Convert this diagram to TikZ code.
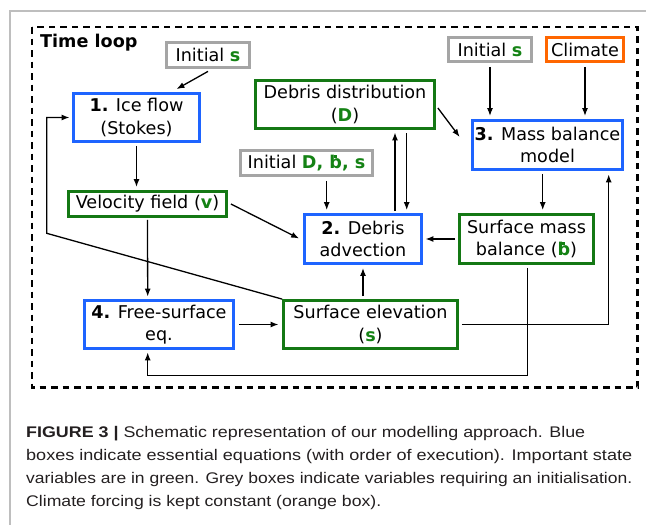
\documentclass[tikz,border=0pt]{standalone}
\usepackage{fontspec}
\setmainfont{DejaVu Sans}
\newfontfamily\capfont{Liberation Sans}
\usetikzlibrary{arrows.meta,calc}
\definecolor{bblue}{RGB}{30,100,255}
\definecolor{bgreen}{RGB}{20,120,20}
\definecolor{vgreen}{RGB}{20,130,20}
\definecolor{bgrey}{RGB}{165,165,165}
\definecolor{borange}{RGB}{255,102,0}
\definecolor{captxt}{RGB}{35,31,32}
\definecolor{framegrey}{RGB}{190,190,190}
\newcommand{\vb}[1]{\textcolor{vgreen}{\textbf{#1}}}
\newcommand{\bdot}{\ooalign{b\cr\hidewidth\raisebox{0.62em}{\rule{0.17em}{0.17em}}\hidewidth\cr}}
\newcommand{\capline}[2]{\resizebox{#1}{\height}{\capfont\fontsize{15.4}{18}\selectfont #2}}
\begin{document}
\begin{tikzpicture}[x=1pt,y=-1pt,
  box/.style={draw, line width=2.8pt, align=center, inner sep=0pt, font=\fontsize{17.6}{22.5}\selectfont, text=black},
  eqbox/.style={box, draw=bblue},
  varbox/.style={box, draw=bgreen},
  initbox/.style={box, draw=bgrey},
  climbox/.style={box, draw=borange},
  arr/.style={line width=1.3pt, -{Latex[length=8pt,width=6pt]}},
  capnode/.style={anchor=base west, inner sep=0pt, text=captxt},
]
\useasboundingbox (0,0) rectangle (646,525);
\draw[framegrey, line width=1.5pt] (10,525) -- (10,11) -- (646,11);
\draw[line width=2.2pt, dash pattern=on 6.5pt off 5pt] (32,27) rectangle (637.5,387.5);

\node[anchor=base west, font=\fontsize{17.6}{20}\selectfont\bfseries, inner sep=0pt] (tl) at (40,47.3) {Time loop};

\node[initbox, minimum width=83pt, minimum height=25pt] (initSa) at (208,55) {Initial \vb{s}};
\node[eqbox, minimum width=126pt, minimum height=48pt] (ice) at (136.5,117.5) {\textbf{1.} Ice flow\\(Stokes)};
\node[varbox, minimum width=158pt, minimum height=25pt] (vel) at (147.5,204) {Velocity field (\vb{v})};
\node[varbox, minimum width=179pt, minimum height=48pt] (debD) at (345,104.5) {Debris distribution\\(\vb{D})};
\node[initbox, minimum width=132pt, minimum height=25pt] (initD) at (306.5,163) {Initial \vb{D, \bdot, s}};
\node[eqbox, minimum width=117pt, minimum height=49pt] (adv) at (363,239) {\textbf{2.} Debris\\advection};
\node[initbox, minimum width=83pt, minimum height=24pt] (initSb) at (490,49.5) {Initial \vb{s}};
\node[climbox, minimum width=77pt, minimum height=24pt] (clim) at (585,49.5) {Climate};
\node[eqbox, minimum width=150pt, minimum height=49pt] (mb) at (547.5,145) {\textbf{3.} Mass balance\\model};
\node[varbox, minimum width=134pt, minimum height=49pt] (smb) at (526.5,239) {Surface mass\\balance (\vb{\bdot})};
\node[eqbox, minimum width=149pt, minimum height=48pt] (fs) at (159,324.5) {\textbf{4.} Free-surface\\eq.};
\node[varbox, minimum width=174pt, minimum height=48pt] (se) at (370.5,324.5) {Surface elevation\\(\vb{s})};

\coordinate (lp1) at (46.7,233.3);
\coordinate (lp2) at (46.7,117.5);
\coordinate (bl) at (527.3,375.7);
\coordinate (br) at (147.7,375.7);
\coordinate (rr) at (608.7,324.3);

\draw[arr] ([shift={(0,2.5)}]initSa.south) -- ([shift={(40,-3)}]ice.north);
\draw[arr] ([shift={(0,3)}]ice.south) -- ([shift={(-11,-3)}]vel.north);
\draw[arr] ([shift={(3,0)}]vel.east) -- ([shift={(-4,-0.5)}]adv.west);
\draw[arr] ([shift={(0,2)}]vel.south) -- ([shift={(-11.3,-2.5)}]fs.north);
\draw[arr] ([shift={(4,0)}]fs.east) -- ([shift={(-3.5,0)}]se.west);
\draw[arr] (se.north west) -- (lp1) -- (lp2) -- ([shift={(-2.5,0)}]ice.west);
\draw[arr] ([shift={(0,-3)}]adv.south |- se.north) -- ([shift={(0,3)}]adv.south);
\draw[arr] ([shift={(-3,0)}]smb.west) -- ([shift={(2.5,0)}]adv.east);
\draw[arr] ([shift={(0.8,3)}]smb.south) -- (bl) -- (br) -- ([shift={(-11.3,2.5)}]fs.south);
\draw[arr] ([shift={(3,-0.2)}]se.east) -- (rr) -- ([shift={(61.2,3.5)}]mb.south);
\draw[arr] ([shift={(0,4)}]initSb.south) -- ([shift={(-57.5,-3)}]mb.north);
\draw[arr] ([shift={(0,4)}]clim.south) -- ([shift={(37.5,-3)}]mb.north);
\draw[arr] ([shift={(2,3.5)}]debD.east) -- ([shift={(-11.4,-8)}]mb.west);
\draw[arr] ([shift={(32,-2)}]adv.north) -- ([shift={(50,2.5)}]debD.south);
\draw[arr] ([shift={(61.7,3.5)}]debD.south) -- ([shift={(43.7,-3)}]adv.north);
\draw[arr] ([shift={(20.2,4)}]initD.south) -- ([shift={(-36.3,-3)}]adv.north);
\draw[arr] ([shift={(-4.8,3)}]mb.south) -- ([shift={(16.2,-3)}]smb.north);

\node[capnode] (c1) at (26,437.5) {\capline{559pt}{\textbf{FIGURE 3 |} Schematic representation of our modelling approach. Blue}};
\node[capnode] (c2) at (26,460.5) {\capline{606pt}{boxes indicate essential equations (with order of execution). Important state}};
\node[capnode] (c3) at (26,483.5) {\capline{606pt}{variables are in green. Grey boxes indicate variables requiring an initialisation.}};
\node[capnode] (c4) at (26,506) {\capline{355pt}{Climate forcing is kept constant (orange box).}};
\end{tikzpicture}
\end{document}
